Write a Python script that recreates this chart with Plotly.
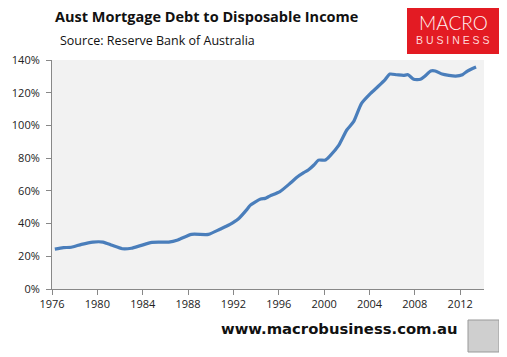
import plotly.graph_objects as go

# Data (year, % of disposable income)
years = [1976.25, 1977.0, 1977.7, 1978.6, 1979.6, 1980.5, 1981.3, 1982.2, 1983.0, 1983.8,
         1984.8, 1986.3, 1987.1, 1988.3, 1989.8, 1990.8, 1991.7, 1992.4, 1993.2, 1993.5,
         1994.4, 1994.8, 1995.2, 1996.1, 1997.0, 1997.6, 1998.2, 1998.6, 1999.1, 1999.5,
         2000.1, 2000.5, 2001.3, 2002.0, 2002.6, 2003.3, 2004.1, 2004.8, 2005.4, 2005.8,
         2006.4, 2007.0, 2007.4, 2007.9, 2008.5, 2008.9, 2009.4, 2009.8, 2010.4, 2011.0,
         2011.6, 2012.2, 2012.6, 2013.0, 2013.4]
debt_ratio = [24.4, 25.3, 25.5, 27.3, 28.7, 28.7, 26.7, 24.6, 24.9, 26.5,
              28.5, 28.7, 30.0, 33.4, 33.4, 36.5, 39.5, 42.6, 48.7, 51.3,
              55.0, 55.4, 56.8, 59.5, 64.6, 68.3, 71.1, 72.7, 75.8, 78.8,
              78.8, 81.3, 88.0, 97.2, 102.3, 113.5, 119.6, 124.1, 128.2, 131.4,
              131.0, 130.6, 131.0, 128.2, 128.2, 130.2, 133.3, 133.3, 131.4, 130.6,
              130.2, 131.0, 133.1, 134.5, 135.7]

x_ticks = [1976, 1980, 1984, 1988, 1992, 1996, 2000, 2004, 2008, 2012]
y_ticks = [0, 20, 40, 60, 80, 100, 120, 140]

title_text = "Aust Mortgage Debt to Disposable Income"
source_text = "Source: Reserve Bank of Australia"
footer_text = "www.macrobusiness.com.au"

OFF = 8  # page body margin
W, H = 507 - OFF, 357 - OFF
# plot area in page pixel coordinates
L, R, T, B = 52, 484, 60, 289


def px(x):
    return (x - L) / (R - L)


def py(y):
    return (B - y) / (B - T)


fig = go.Figure()
fig.add_trace(go.Scatter(
    x=years, y=debt_ratio, mode="lines",
    line=dict(color="#4a7ebb", width=3.2, shape="spline", smoothing=0.6),
    hoverinfo="skip", showlegend=False,
))

axis_font = dict(family="Open Sans, Liberation Sans, sans-serif", size=11, color="#222")

fig.update_layout(
    width=W, height=H,
    margin=dict(l=L - OFF, r=W - (R - OFF), t=T - OFF, b=H - (B - OFF), pad=0),
    paper_bgcolor="white",
    plot_bgcolor="#f2f2f2",
    showlegend=False,
    xaxis=dict(
        range=[1976, 2014.1], tickvals=x_ticks, ticktext=[str(t) for t in x_ticks],
        showgrid=False, zeroline=False, showline=True, linecolor="#888", linewidth=1,
        ticks="outside", ticklen=5, tickcolor="#888", tickfont=axis_font,
        automargin=False, fixedrange=True,
    ),
    yaxis=dict(
        range=[0, 140], tickvals=y_ticks, ticktext=[f"{t}%" for t in y_ticks],
        showgrid=False, zeroline=False, showline=True, linecolor="#888", linewidth=1,
        ticks="outside", ticklen=5, tickcolor="#888", tickfont=axis_font,
        ticklabelstandoff=4, automargin=False, fixedrange=True,
    ),
)

annotations = [
    dict(text=f"<b>{title_text}</b>", x=px(206), y=py(17), xref="paper", yref="paper",
         showarrow=False, xanchor="center", yanchor="middle",
         font=dict(family="Open Sans, sans-serif", size=14.5, color="#111")),
    dict(text=source_text, x=px(58), y=py(41), xref="paper", yref="paper",
         showarrow=False, xanchor="left", yanchor="middle",
         font=dict(family="Open Sans, sans-serif", size=12.5, color="#111")),
    dict(text="MACRO", x=px(453), y=py(23), xref="paper", yref="paper",
         showarrow=False, xanchor="center", yanchor="middle",
         font=dict(family="Lato, Liberation Sans, sans-serif", size=19, color="#fff4f4", weight=300)),
    dict(text="B U S I N E S S", x=px(453), y=py(40), xref="paper", yref="paper",
         showarrow=False, xanchor="center", yanchor="middle",
         font=dict(family="Liberation Sans, Arial, sans-serif", size=10.5, color="#ffd8d8")),
    dict(text=f"<b>{footer_text}</b>", x=px(460), y=py(328), xref="paper", yref="paper",
         showarrow=False, xanchor="right", yanchor="middle",
         font=dict(family="DejaVu Sans, Verdana, sans-serif", size=14.8, color="#111")),
]
fig.update_layout(annotations=annotations)

shapes = [
    dict(type="rect", xref="paper", yref="paper", x0=px(407), x1=px(499), y0=py(54), y1=py(4),
         fillcolor="#e31b23", line=dict(width=0), layer="below"),
    dict(type="rect", xref="paper", yref="paper", x0=px(468), x1=px(499), y0=py(352), y1=py(320),
         fillcolor="#cfcfcf", line=dict(color="#999", width=1), layer="below"),
]
fig.update_layout(shapes=shapes)

fig.write_html("out.html", config={"displayModeBar": False})
